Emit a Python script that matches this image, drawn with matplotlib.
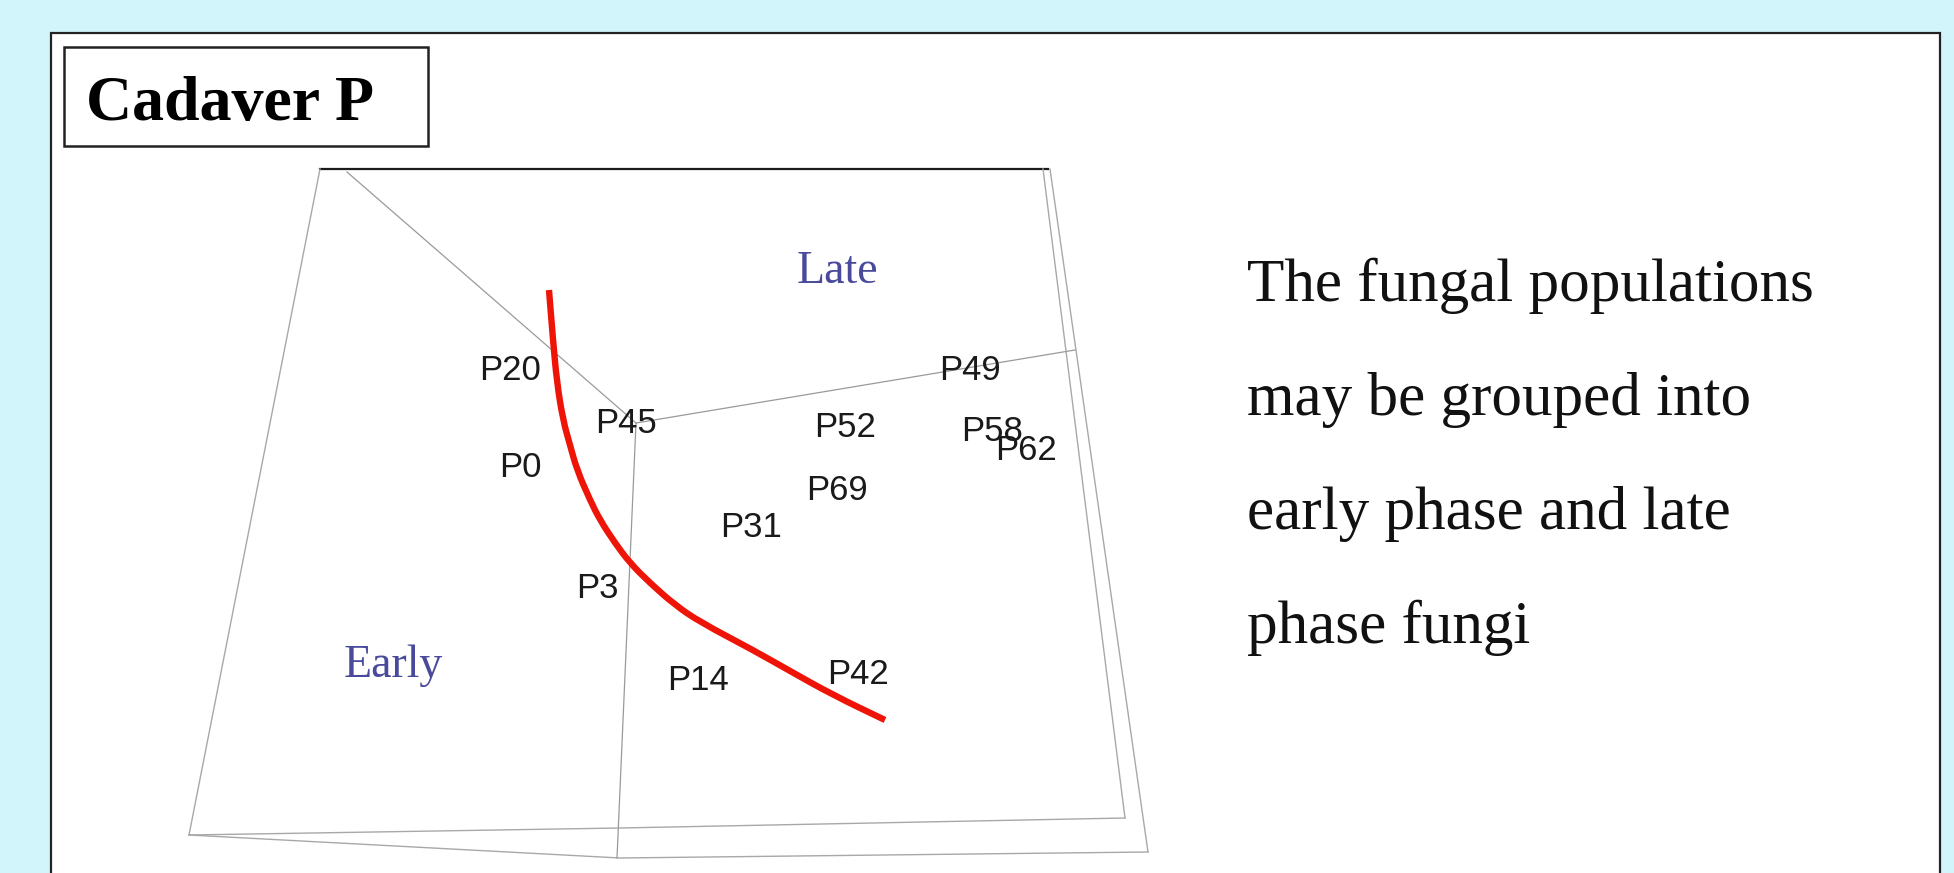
import numpy as np
import matplotlib.pyplot as plt
from matplotlib.patches import Rectangle, PathPatch
from matplotlib.path import Path

W, H = 1954, 873

# sample labels and where they sit on the ordination (pixel space of the slide)
labels = ["P20", "P45", "P0", "P3", "P31", "P69", "P52", "P49", "P58", "P62", "P14", "P42"]
lab_x = [510, 626, 520, 597, 751, 837, 845, 970, 992, 1026, 698, 858]
lab_y = [380, 433, 477, 598, 537, 500, 437, 380, 441, 460, 690, 684]

# red boundary curve (early / late)
curve_x = [549, 553, 557, 563, 570, 577, 590, 600, 615, 630, 650, 675, 700, 753, 790, 833, 885]
curve_y = [290, 340, 383, 420, 445, 470, 500, 520, 543, 563, 583, 605, 622, 650, 671, 695, 720]

# box frame of the 3d ordination plot
top_x, top_y = [320, 1048], [169, 169]
left_x, left_y = [320, 189], [169, 835]
right_a_x, right_a_y = [1043, 1125], [169, 818]
right_b_x, right_b_y = [1050, 1148], [169, 852]
bot_up_x, bot_up_y = [189, 620, 1125], [835, 828, 818]
bot_lo_x, bot_lo_y = [189, 620, 1148], [835, 858, 852]
# internal partition lines
diag_x, diag_y = [347, 636], [172, 423]
horiz_x, horiz_y = [636, 1075], [423, 350]
vert_x, vert_y = [636, 617], [423, 858]

groups = ["Late", "Early"]
group_x = [837, 393]
group_y = [283, 677]

title = "Cadaver P"
note_lines = ["The fungal populations", "may be grouped into",
              "early phase and late", "phase fungi"]


def smooth_path(xs, ys):
    # quadratic b-spline through the midpoints of the read points
    pts = np.column_stack([xs, ys]).astype(float)
    mids = (pts[:-1] + pts[1:]) / 2
    verts = [pts[0], mids[0]]
    codes = [Path.MOVETO, Path.LINETO]
    for i in range(1, len(pts) - 1):
        verts += [pts[i], mids[i]]
        codes += [Path.CURVE3, Path.CURVE3]
    verts.append(pts[-1])
    codes.append(Path.LINETO)
    return Path(verts, codes)


fig = plt.figure(figsize=(W / 100, H / 100), dpi=100)
fig.patch.set_facecolor("#d2f5fc")
ax = fig.add_axes([0, 0, 1, 1])
ax.set_xlim(0, W)
ax.set_ylim(H, 0)
ax.axis("off")

# white slide panel and title box
ax.add_patch(Rectangle((51, 33), 1889, 900, facecolor="white", edgecolor="#222222", lw=1.6, zorder=0))
ax.add_patch(Rectangle((64, 47), 364, 99, facecolor="white", edgecolor="#222222", lw=1.8, zorder=1))
ax.text(86, 120, title, fontsize=46, fontweight="bold", family="Liberation Serif",
        ha="left", va="baseline", color="black")

# frame
ax.plot(top_x, top_y, color="#1a1a1a", lw=1.6)
for fx, fy in [(left_x, left_y), (right_a_x, right_a_y), (right_b_x, right_b_y),
               (bot_up_x, bot_up_y), (bot_lo_x, bot_lo_y)]:
    ax.plot(fx, fy, color="#a8a8a8", lw=1.0)
for fx, fy in [(diag_x, diag_y), (horiz_x, horiz_y), (vert_x, vert_y)]:
    ax.plot(fx, fy, color="#9a9a9a", lw=0.9)

# boundary curve
ax.add_patch(PathPatch(smooth_path(curve_x, curve_y), facecolor="none",
                       edgecolor="#ee1508", lw=4.6, capstyle="butt", zorder=3))

for lab, x, y in zip(labels, lab_x, lab_y):
    ax.text(x, y, lab, fontsize=25, family="Liberation Sans", ha="center",
            va="baseline", color="#1a1a1a", zorder=4)

for g, x, y in zip(groups, group_x, group_y):
    ax.text(x, y, g, fontsize=33, family="Liberation Serif", ha="center",
            va="baseline", color="#4a4a9c", zorder=4)

for i, line in enumerate(note_lines):
    ax.text(1247, 301 + 114 * i, line, fontsize=44, family="Liberation Serif",
            ha="left", va="baseline", color="#111111")

fig.savefig("out.png", dpi=100, facecolor=fig.get_facecolor())
